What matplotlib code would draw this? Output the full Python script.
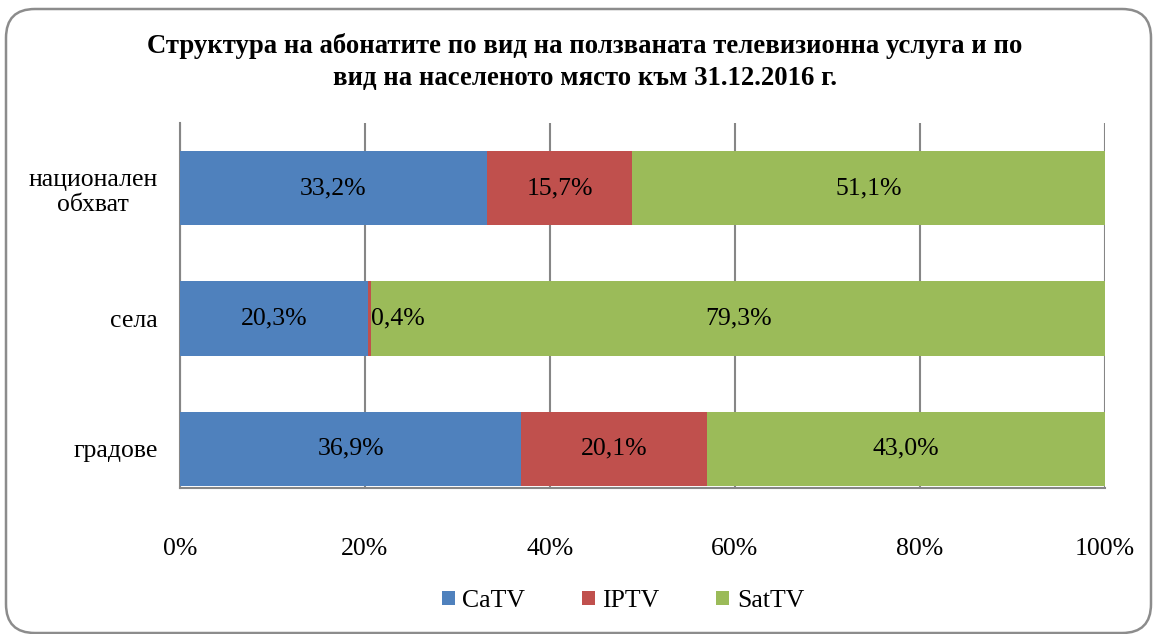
import matplotlib.pyplot as plt
from matplotlib.patches import FancyBboxPatch
import numpy as np

# data
categories = ["национален\nобхват", "села", "градове"]
series_names = ["CaTV", "IPTV", "SatTV"]
catv = [33.2, 20.3, 36.9]
iptv = [15.7, 0.4, 20.1]
sattv = [51.1, 79.3, 43.0]
colors = ["#4F81BD", "#C0504D", "#9BBB59"]
xticks = [0, 20, 40, 60, 80, 100]

plt.rcParams['font.family'] = ['Liberation Serif', 'DejaVu Serif']

W, H = 1156, 634
fig = plt.figure(figsize=(W / 100, H / 100), dpi=100)

# rounded frame
frame = FancyBboxPatch((6 / W, 1 / H), 1145 / W, 624 / H,
                       boxstyle="round,pad=0,rounding_size=0.025",
                       transform=fig.transFigure, facecolor="white",
                       edgecolor="#8C8C8C", linewidth=1.8, mutation_aspect=W / H,
                       zorder=-5)
fig.patches.append(frame)

ax = fig.add_axes([180 / W, 146 / H, 925 / W, 365 / H])
ax.set_facecolor("none")

fs = 18.5
y = np.arange(len(categories))[::-1]  # first category on top
data = [catv, iptv, sattv]
left = np.zeros(len(categories))
for name, vals, c in zip(series_names, data, colors):
    vals = np.array(vals)
    ax.barh(y, vals, left=left, height=0.57, color=c, label=name, zorder=3)
    for yi, l, v in zip(y, left, vals):
        lab = f"{v:.1f}%".replace(".", ",")
        if v < 3:
            ax.text(l + v, yi, lab, ha="left", va="center", fontsize=fs, zorder=4)
        else:
            ax.text(l + v / 2, yi, lab, ha="center", va="center", fontsize=fs, zorder=4)
    left += vals

ax.set_xlim(0, 100)
ax.set_ylim(-0.3, 2.5)
ax.set_xticks(xticks)
ax.set_xticklabels([f"{t}%" for t in xticks], fontsize=fs)
ax.set_yticks(y)
ax.set_yticklabels(categories, fontsize=fs, multialignment="center")
ax.tick_params(axis="x", length=0, pad=36)
ax.tick_params(axis="y", length=0, pad=16)
ax.xaxis.grid(True, color="#868686", linewidth=1.5, zorder=0)
for s in ["top", "right"]:
    ax.spines[s].set_visible(False)
for s in ["left", "bottom"]:
    ax.spines[s].set_color("#868686")
    ax.spines[s].set_linewidth(1.5)

fig.text(585 / W, 1 - 62 / H,
         "Структура на абонатите по вид на ползваната телевизионна услуга и по\n"
         "вид на населеното място към 31.12.2016 г.",
         ha="center", va="center", fontsize=19.3, fontweight="bold", linespacing=1.32)

fig.legend(loc="center", bbox_to_anchor=(623 / W, 1 - 601 / H), ncol=3,
           frameon=False, fontsize=fs, handlelength=0.5, handleheight=0.5,
           columnspacing=2.2, handletextpad=0.3)

fig.savefig("out.png", dpi=100)
